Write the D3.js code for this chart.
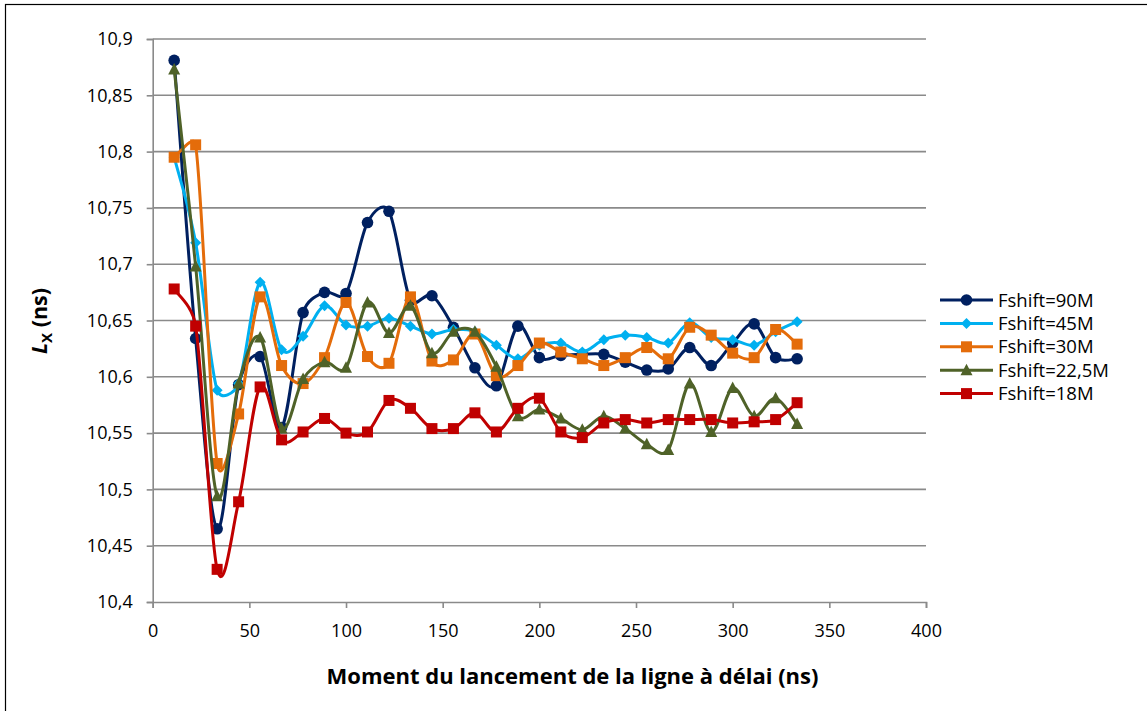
<!DOCTYPE html>
<html>
<head>
<meta charset="utf-8">
<script src="https://cdn.jsdelivr.net/npm/d3@7"></script>
<style>
  html, body { margin: 0; padding: 0; background: #fff; }
  svg { display: block; }
  text { font-family: "Open Sans", Lato, sans-serif; fill: #000; }
</style>
</head>
<body>
<svg id="chart" width="1147" height="711"></svg>
<script>
// Launch instant of the delay line (ns): 30 steps of 100/9 ns
const launchTimes = [11.11, 22.22, 33.33, 44.44, 55.56, 66.67, 77.78, 88.89, 100, 111.11,
  122.22, 133.33, 144.44, 155.56, 166.67, 177.78, 188.89, 200, 211.11, 222.22,
  233.33, 244.44, 255.56, 266.67, 277.78, 288.89, 300, 311.11, 322.22, 333.33];

const lx90 = [10.881, 10.634, 10.465, 10.593, 10.618, 10.555, 10.657, 10.675, 10.674, 10.737,
  10.747, 10.668, 10.672, 10.644, 10.608, 10.592, 10.645, 10.617, 10.619, 10.620,
  10.620, 10.613, 10.606, 10.607, 10.626, 10.610, 10.630, 10.647, 10.617, 10.616];

const lx45 = [10.795, 10.719, 10.588, 10.594, 10.684, 10.624, 10.636, 10.663, 10.646, 10.645,
  10.652, 10.645, 10.638, 10.642, 10.640, 10.628, 10.616, 10.628, 10.630, 10.622,
  10.633, 10.637, 10.635, 10.630, 10.648, 10.635, 10.633, 10.628, 10.640, 10.649];

const lx30 = [10.795, 10.806, 10.523, 10.567, 10.671, 10.610, 10.594, 10.617, 10.666, 10.618,
  10.612, 10.671, 10.614, 10.615, 10.638, 10.601, 10.610, 10.630, 10.622, 10.616,
  10.610, 10.617, 10.626, 10.616, 10.644, 10.637, 10.621, 10.617, 10.642, 10.629];

const lx225 = [10.873, 10.698, 10.494, 10.594, 10.635, 10.554, 10.598, 10.613, 10.608, 10.666,
  10.639, 10.663, 10.621, 10.640, 10.640, 10.609, 10.565, 10.571, 10.563, 10.553,
  10.565, 10.554, 10.540, 10.535, 10.594, 10.551, 10.590, 10.565, 10.581, 10.558];

const lx18 = [10.678, 10.645, 10.429, 10.489, 10.591, 10.544, 10.551, 10.563, 10.550, 10.551,
  10.579, 10.572, 10.554, 10.554, 10.568, 10.551, 10.572, 10.581, 10.551, 10.546,
  10.559, 10.562, 10.559, 10.562, 10.562, 10.562, 10.559, 10.560, 10.562, 10.577];

const seriesNames = ["Fshift=90M", "Fshift=45M", "Fshift=30M", "Fshift=22,5M", "Fshift=18M"];
const seriesValues = [lx90, lx45, lx30, lx225, lx18];

const xTicks = [0, 50, 100, 150, 200, 250, 300, 350, 400];
const yTicks = [10.4, 10.45, 10.5, 10.55, 10.6, 10.65, 10.7, 10.75, 10.8, 10.85, 10.9];

const xTitle = "Moment du lancement de la ligne à délai (ns)";

// Styling per series
const colors = ["#002060", "#00B0F0", "#E46C0A", "#4F6228", "#C00000"];
const markers = ["circle", "diamond", "square", "triangle", "square"];

const svg = d3.select("#chart");
const plot = { left: 152.7, right: 926, top: 39, bottom: 602 };

const x = d3.scaleLinear().domain([0, 400]).range([plot.left, plot.right]);
const y = d3.scaleLinear().domain([10.4, 10.9]).range([plot.bottom, plot.top]);

const fmt = v => String(+v.toFixed(2)).replace(".", ",");
const gridColor = "#8a8a8a";
const tickFont = "18px";

// Outer frame
svg.append("rect")
  .attr("x", 5.5).attr("y", 4.5)
  .attr("width", 1160).attr("height", 720)
  .attr("fill", "#fff").attr("stroke", "#000").attr("stroke-width", 1.2);

// Horizontal gridlines
svg.append("g")
  .selectAll("line")
  .data(yTicks.slice(1))
  .join("line")
  .attr("x1", plot.left).attr("x2", plot.right)
  .attr("y1", d => y(d)).attr("y2", d => y(d))
  .attr("stroke", gridColor).attr("stroke-width", 1.6);

// Y axis
const yAxis = svg.append("g")
  .attr("transform", `translate(${plot.left},0)`)
  .call(d3.axisLeft(y).tickValues(yTicks).tickSize(6).tickPadding(14).tickFormat(fmt));
yAxis.select(".domain").attr("stroke", gridColor).attr("stroke-width", 1.6);
yAxis.selectAll(".tick line").attr("stroke", gridColor).attr("stroke-width", 1.6);
yAxis.selectAll(".tick text").style("font-size", tickFont).style("font-family", "'Open Sans', sans-serif").attr("fill", "#000");

// X axis
const xAxis = svg.append("g")
  .attr("transform", `translate(0,${plot.bottom})`)
  .call(d3.axisBottom(x).tickValues(xTicks).tickSize(6).tickPadding(16).tickFormat(d3.format("d")));
xAxis.select(".domain").attr("stroke", gridColor).attr("stroke-width", 1.6);
xAxis.selectAll(".tick line").attr("stroke", gridColor).attr("stroke-width", 1.6);
xAxis.selectAll(".tick text").style("font-size", tickFont).style("font-family", "'Open Sans', sans-serif").attr("fill", "#000");

// Axis titles
svg.append("text")
  .attr("x", (323 + 822) / 2).attr("y", 684)
  .attr("text-anchor", "middle")
  .style("font-size", "22px").style("font-weight", "bold")
  .text(xTitle);

const yt = svg.append("text")
  .attr("transform", "translate(47,321) rotate(-90)")
  .attr("text-anchor", "middle")
  .style("font-size", "21.5px").style("font-weight", "bold");
yt.append("tspan").style("font-style", "italic").text("L");
yt.append("tspan").attr("dy", 5).style("font-size", "15px").text("X");
yt.append("tspan").attr("dy", -5).text(" (ns)");

// Marker shapes
function drawMarker(sel, type, color) {
  if (type === "circle") {
    sel.append("circle").attr("r", 5.8).attr("fill", color);
  } else if (type === "square") {
    sel.append("rect").attr("x", -5.5).attr("y", -5.5).attr("width", 11).attr("height", 11).attr("fill", color);
  } else if (type === "diamond") {
    sel.append("path").attr("d", "M0,-5.5L5.5,0L0,5.5L-5.5,0Z").attr("fill", color);
  } else if (type === "triangle") {
    sel.append("path").attr("d", "M0,-6.5L6,5L-6,5Z").attr("fill", color);
  }
}

// Spreadsheet-style smoothed line: cubic Bézier segments whose control
// points follow the neighbour chord (1/6), capped at half the segment length.
function smoothPath(pts) {
  const p = d3.path();
  const dist = (a, b) => Math.hypot(b[0] - a[0], b[1] - a[1]);
  p.moveTo(pts[0][0], pts[0][1]);
  for (let i = 0; i < pts.length - 1; i++) {
    const p0 = pts[Math.max(i - 1, 0)];
    const p1 = pts[i];
    const p2 = pts[i + 1];
    const p3 = pts[Math.min(i + 2, pts.length - 1)];
    const d12 = dist(p1, p2);
    const d02 = dist(p0, p2);
    const d13 = dist(p1, p3);
    const f0 = (d02 / 6 < d12 / 2 || d02 === 0) ? 1 / 6 : d12 / (2 * d02);
    const f1 = (d13 / 6 < d12 / 2 || d13 === 0) ? 1 / 6 : d12 / (2 * d13);
    const c1 = [p1[0] + f0 * (p2[0] - p0[0]), p1[1] + f0 * (p2[1] - p0[1])];
    const c2 = [p2[0] - f1 * (p3[0] - p1[0]), p2[1] - f1 * (p3[1] - p1[1])];
    p.bezierCurveTo(c1[0], c1[1], c2[0], c2[1], p2[0], p2[1]);
  }
  return p.toString();
}

// Series lines and markers
seriesValues.forEach((vals, i) => {
  const pts = launchTimes.map((t, j) => [x(t), y(vals[j])]);
  const g = svg.append("g");
  g.append("path")
    .attr("d", smoothPath(pts))
    .attr("fill", "none")
    .attr("stroke", colors[i])
    .attr("stroke-width", 3);
  pts.forEach(p => {
    const m = g.append("g").attr("transform", `translate(${p[0]},${p[1]})`);
    drawMarker(m, markers[i], colors[i]);
  });
});

// Legend
const legend = svg.append("g");
seriesNames.forEach((name, i) => {
  const ly = 300 + i * 23.4;
  const row = legend.append("g").attr("transform", `translate(0,${ly})`);
  row.append("line")
    .attr("x1", 940).attr("x2", 993)
    .attr("y1", 0).attr("y2", 0)
    .attr("stroke", colors[i]).attr("stroke-width", 3);
  const m = row.append("g").attr("transform", "translate(966.5,0)");
  drawMarker(m, markers[i], colors[i]);
  row.append("text")
    .attr("x", 998).attr("y", 0).attr("dy", "0.36em")
    .style("font-size", "18.5px")
    .text(name);
});
</script>
</body>
</html>
